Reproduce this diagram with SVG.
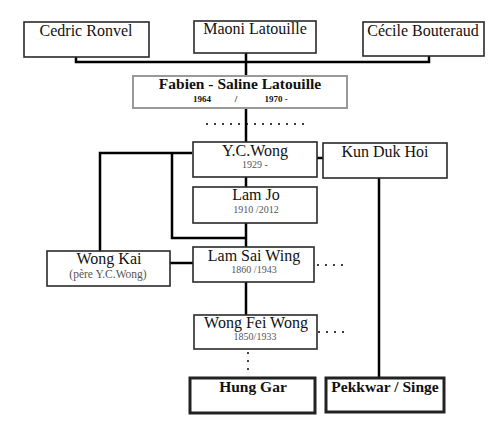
<svg xmlns="http://www.w3.org/2000/svg" width="500" height="441" viewBox="0 0 500 441">
<style>
.box{fill:#fff;stroke:#2a2a2a;stroke-width:1.6}
.fab{fill:#fff;stroke:#999;stroke-width:2}
.thick{fill:#fff;stroke:#222;stroke-width:3}
.ln{fill:none;stroke:#000;stroke-width:2.5}
.dot{fill:none;stroke:#000;stroke-width:2;stroke-linecap:round;stroke-dasharray:0 8}
text{font-family:"Liberation Serif","DejaVu Serif",serif;text-anchor:middle;fill:#111}
.t{font-size:16px}
.s{font-size:10px;fill:#555}
.s2{font-size:11.5px;fill:#555}
.b{font-size:15.5px;font-weight:bold}
.bs{font-size:9px;font-weight:bold}
</style>
<rect width="500" height="441" fill="#fff"/>
<g id="connectors">
<path class="ln" d="M76,57V62H429V56M246,53V76"/>
<path class="ln" d="M246,108V142"/>
<path class="dot" d="M207,124H305"/>
<path class="ln" d="M317,158H323"/>
<path class="ln" d="M192,153H100V251M172,153V238H246"/>
<path class="ln" d="M246,177V187M246,223V247"/>
<path class="ln" d="M170,263H193"/>
<path class="dot" d="M318,265H346"/>
<path class="ln" d="M379,178V378"/>
<path class="ln" d="M246,282V315"/>
<path class="dot" d="M319,332H351"/>
<path class="dot" d="M248,353V377"/>
</g>
<g id="cedric"><rect class="box" x="24" y="22" width="125" height="35"/><text class="t" x="86" y="36">Cedric Ronvel</text></g>
<g id="maoni"><rect class="box" x="194" y="21" width="122" height="32"/><text class="t" x="255" y="34">Maoni Latouille</text></g>
<g id="cecile"><rect class="box" x="363" y="22" width="121" height="34"/><text class="t" x="423" y="36">Cécile Bouteraud</text></g>
<g id="fabien"><rect class="fab" x="133" y="76" width="214" height="32"/><text class="b" x="240" y="89">Fabien - Saline Latouille</text><text class="bs" x="202" y="102">1964</text><text class="bs" x="236" y="102">/</text><text class="bs" x="276" y="102">1970 -</text></g>
<g id="ycwong"><rect class="box" x="193" y="142" width="124" height="35"/><text class="t" x="255" y="156">Y.C.Wong</text><text class="s" x="255" y="168">1929 -</text></g>
<g id="kunduk"><rect class="box" x="323" y="143" width="124" height="35"/><text class="t" x="385" y="157">Kun Duk Hoi</text></g>
<g id="lamjo"><rect class="box" x="193" y="187" width="124" height="36"/><text class="t" x="256" y="200">Lam Jo</text><text class="s" x="256" y="213">1910 /2012</text></g>
<g id="wongkai"><rect class="box" x="47" y="251" width="123" height="35"/><text class="t" x="109" y="264">Wong Kai</text><text class="s2" x="108" y="278">(père Y.C.Wong)</text></g>
<g id="lamsaiwing"><rect class="box" x="193" y="247" width="121" height="35"/><text class="t" x="254" y="261">Lam Sai Wing</text><text class="s" x="254" y="273">1860 /1943</text></g>
<g id="wongfeiwong"><rect class="box" x="194" y="315" width="123" height="34"/><text class="t" x="256" y="328">Wong Fei Wong</text><text class="s" x="255" y="340">1850/1933</text></g>
<g id="hunggar"><rect class="thick" x="190" y="378" width="125" height="35"/><text class="b" x="253" y="392">Hung Gar</text></g>
<g id="pekkwar"><rect class="thick" x="326" y="378" width="118" height="34"/><text class="b" x="385" y="392">Pekkwar / Singe</text></g>
</svg>
